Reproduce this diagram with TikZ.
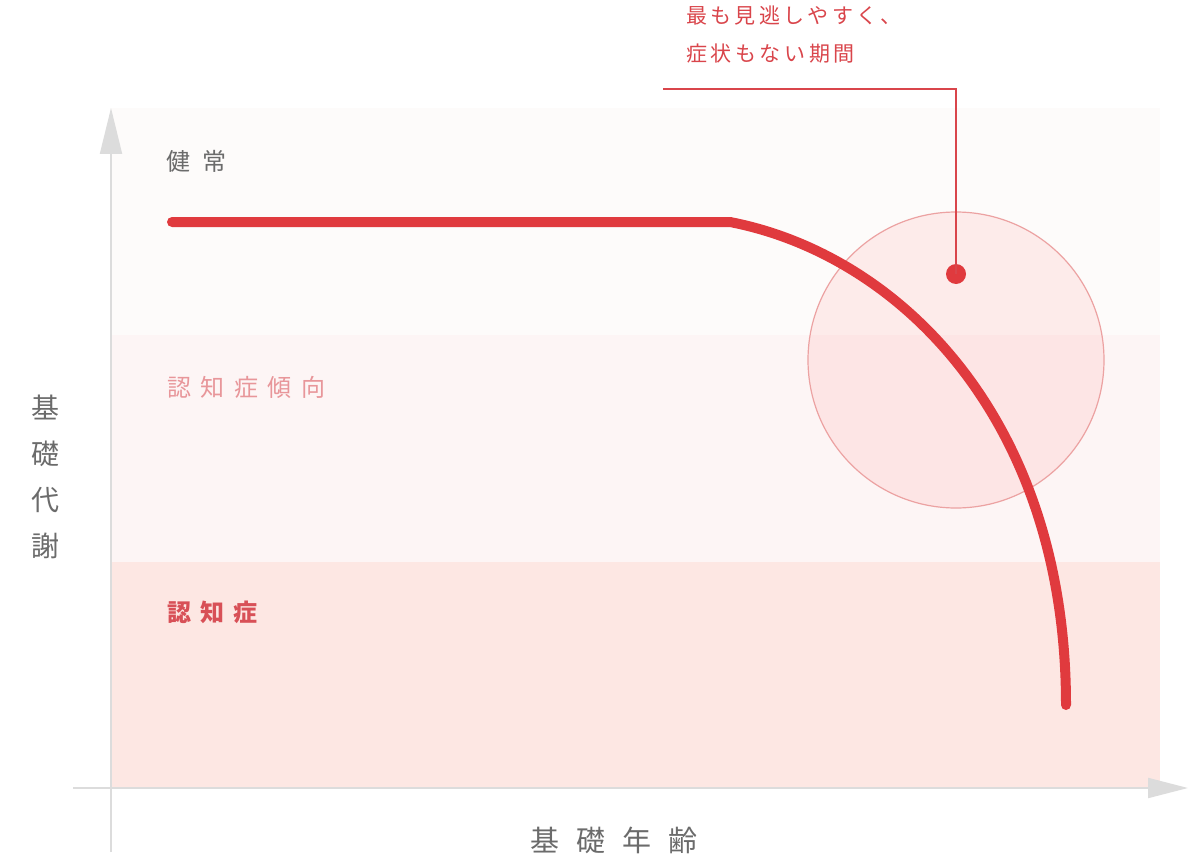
\documentclass[tikz,border=0pt]{standalone}
\usepackage{fontspec}
\newfontfamily\jp{Noto Sans CJK JP}
\usetikzlibrary{positioning}
\usetikzlibrary{calc}
\usetikzlibrary{arrows.meta}
\definecolor{bandtop}{HTML}{FDFBFA}
\definecolor{bandmid}{HTML}{FDF5F5}
\definecolor{bandlow}{HTML}{FDE7E3}
\definecolor{axisgray}{HTML}{DCDCDC}
\definecolor{curvered}{HTML}{E03A3E}
\definecolor{ringred}{HTML}{ECA2A2}
\definecolor{labelgray}{HTML}{6B6B6B}
\definecolor{tendpink}{HTML}{E8969A}
\definecolor{dementred}{HTML}{D85057}
\definecolor{notered}{HTML}{D9454B}
\tikzset{
  band/.style={draw=none, anchor=north west, inner sep=0pt, minimum width=1050pt, minimum height=226.5pt},
  zone/.style={anchor=west, inner sep=0pt, font=\jp\fontsize{24}{27}\selectfont},
  axislabel/.style={inner sep=0pt, text=labelgray, font=\jp\fontsize{29}{33}\selectfont},
}
\begin{document}
\begin{tikzpicture}[x=1pt,y=-1pt]
            \useasboundingbox (0,0) rectangle (1200,864);
            % Bereiche
            \node [band, fill=bandtop] (healthy) at (110,108) {};
            \node [band, fill=bandmid, below=0pt of healthy] (tendency) {};
            \node [band, fill=bandlow, below=0pt of tendency] (dementia) {};

            % Achsen
            \coordinate (ytop) at (111,108);
            \coordinate (ybottom) at (111,852);
            \coordinate (xleft) at (73,788);
            \coordinate (xright) at (1188,788);
            \draw [axisgray, line width=2pt, -{Triangle[width=22pt,length=46pt]}] (ybottom) -- (ytop);
            \draw [axisgray, line width=2pt, -{Triangle[width=20pt,length=40pt]}] (xleft) -- (xright);

            % Beschriftungen
            \node [zone, text=labelgray] (lblhealthy) at (166,161) {\addfontfeature{LetterSpace=50}健常};
            \node [zone, text=tendpink] (lbltendency) at (167,387) {\addfontfeature{LetterSpace=40}認知症傾向};
            \node [zone, text=dementred, font=\jp\bfseries\fontsize{24}{27}\selectfont] (lbldementia) at (167,612) {\addfontfeature{LetterSpace=38}認知症};
            \node [axislabel, align=center, font=\jp\fontsize{28}{46}\selectfont] (ylabel) at (45,477) {基\\礎\\代\\謝};
            \node [axislabel] (xlabel) at (614,840) {\addfontfeature{LetterSpace=58}基礎年齢};

            % Kreis und Hinweis
            \node [draw=ringred, line width=1.2pt, fill=red!70!white, fill opacity=0.09, circle, minimum size=296pt] (window) at (956,360) {};
            \node [fill=curvered, circle, inner sep=0pt, minimum size=20pt] (dot) at (956,274) {};
            \node [anchor=north west, inner sep=0pt, text=notered, align=left, font=\jp\fontsize{21}{38}\selectfont] (note) at (686,6) {\addfontfeature{LetterSpace=16}最も見逃しやすく、\\\addfontfeature{LetterSpace=17}症状もない期間};
            \coordinate (notecorner) at (956,89);
            \coordinate (noteend) at (663,89);
            \draw [notered, line width=1.5pt] (dot.center) -- (notecorner) -- (noteend);

            % Verlauf
            \coordinate (start) at (172,222);
            \coordinate (knee) at (730,222);
            \coordinate (finish) at (1066,705);
            \draw [curvered, line width=10pt, line cap=round] (start) -- (knee) .. controls (900,255) and (1066,420) .. (finish);
        \end{tikzpicture}
\end{document}
